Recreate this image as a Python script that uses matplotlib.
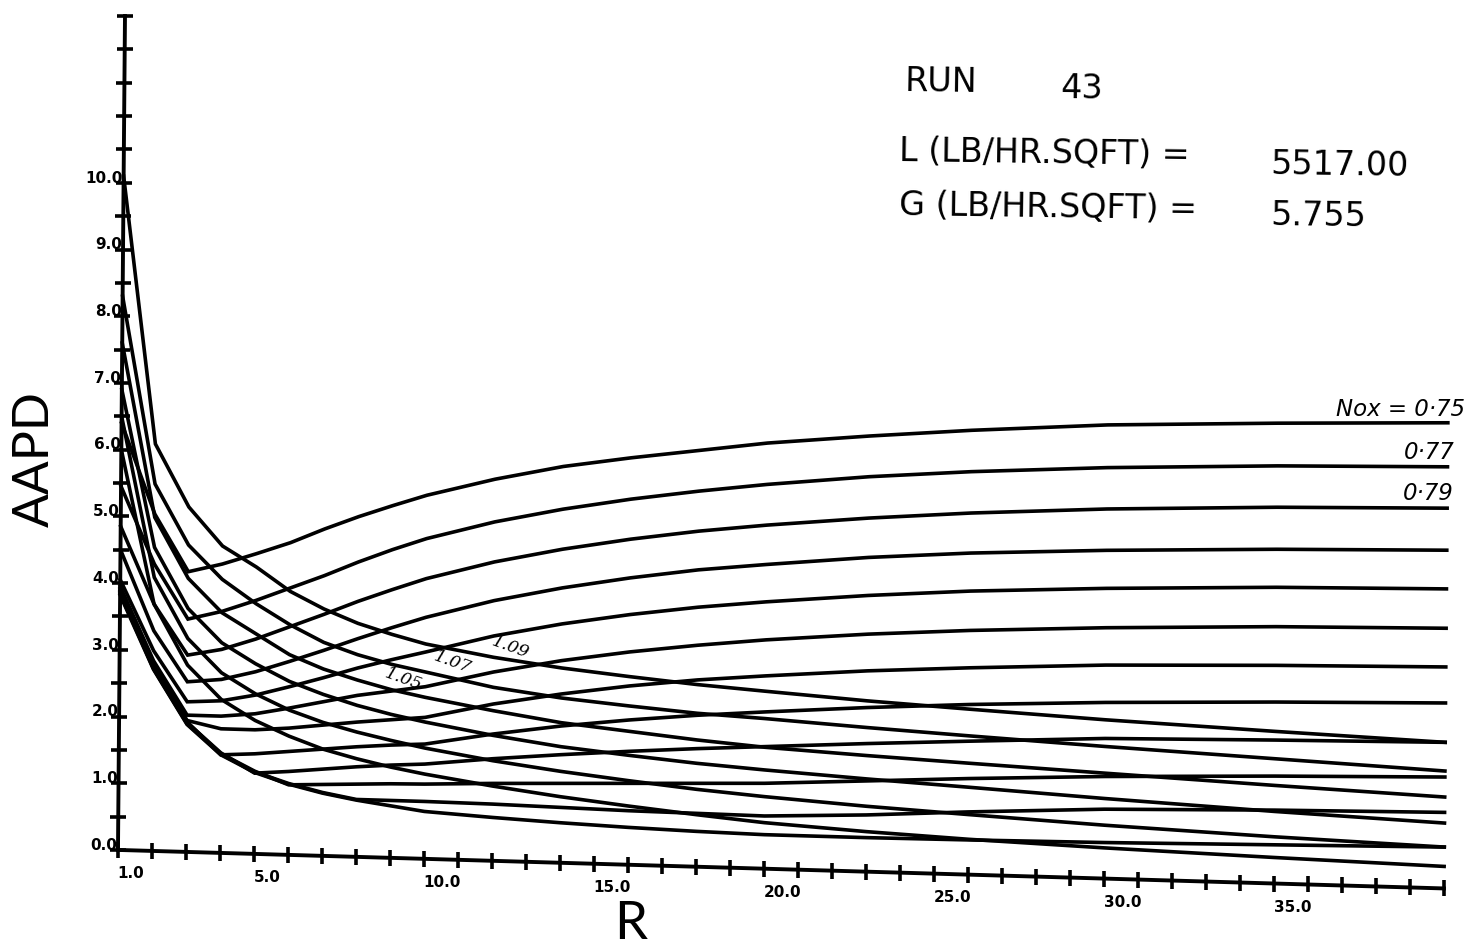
import matplotlib
matplotlib.use("Agg")
import matplotlib.pyplot as plt
from matplotlib.transforms import Affine2D

# ---- values (AAPD against R) ----
r_values = [1, 2, 3, 4, 5, 6, 7, 8, 9, 10, 12, 14, 16, 18, 20, 23, 26, 30, 35, 40]

# curves that turn and level off, Nox = 0.75 ... 0.97
nox_low = [0.75, 0.77, 0.79, 0.81, 0.83, 0.85, 0.87, 0.89, 0.91, 0.93, 0.95, 0.97]
aapd_low = [
    [6.4, 5.05, 4.2, 4.33, 4.5, 4.68, 4.9, 5.1, 5.28, 5.45, 5.72, 5.94, 6.1, 6.24, 6.38, 6.53, 6.66, 6.8, 6.9, 6.98],
    [5.45, 4.3, 3.49, 3.62, 3.8, 4.0, 4.2, 4.42, 4.62, 4.8, 5.08, 5.3, 5.48, 5.63, 5.76, 5.92, 6.04, 6.16, 6.26, 6.32],
    [4.85, 3.7, 2.95, 3.05, 3.22, 3.42, 3.62, 3.83, 4.02, 4.2, 4.48, 4.7, 4.88, 5.03, 5.15, 5.3, 5.42, 5.54, 5.64, 5.70],
    [4.5, 3.3, 2.55, 2.6, 2.73, 2.9, 3.08, 3.27, 3.45, 3.62, 3.9, 4.12, 4.3, 4.45, 4.56, 4.71, 4.82, 4.92, 5.01, 5.07],
    [4.05, 3.0, 2.25, 2.28, 2.38, 2.52, 2.67, 2.83, 2.97, 3.1, 3.37, 3.58, 3.75, 3.89, 4.0, 4.14, 4.25, 4.35, 4.44, 4.49],
    [3.95, 2.85, 2.05, 2.05, 2.1, 2.2, 2.31, 2.42, 2.5, 2.58, 2.83, 3.03, 3.19, 3.32, 3.43, 3.56, 3.66, 3.76, 3.85, 3.90],
    [3.92, 2.8, 1.97, 1.86, 1.86, 1.9, 1.96, 2.02, 2.07, 2.12, 2.35, 2.53, 2.68, 2.8, 2.89, 3.01, 3.1, 3.2, 3.27, 3.32],
    [3.9, 2.76, 1.95, 1.47, 1.5, 1.55, 1.6, 1.65, 1.69, 1.72, 1.9, 2.05, 2.17, 2.27, 2.35, 2.46, 2.55, 2.64, 2.72, 2.78],
    [3.88, 2.75, 1.94, 1.5, 1.21, 1.25, 1.3, 1.35, 1.39, 1.42, 1.53, 1.62, 1.7, 1.77, 1.83, 1.92, 2.0, 2.1, 2.15, 2.19],
    [3.86, 2.74, 1.93, 1.49, 1.24, 1.05, 1.07, 1.09, 1.11, 1.12, 1.16, 1.19, 1.22, 1.25, 1.28, 1.36, 1.44, 1.53, 1.61, 1.67],
    [3.84, 2.73, 1.92, 1.48, 1.23, 1.07, 0.95, 0.86, 0.86, 0.86, 0.85, 0.83, 0.81, 0.8, 0.79, 0.85, 0.94, 1.04, 1.1, 1.14],
    [3.82, 2.72, 1.91, 1.47, 1.22, 1.06, 0.94, 0.85, 0.78, 0.71, 0.65, 0.6, 0.56, 0.53, 0.51, 0.51, 0.52, 0.54, 0.58, 0.62],
]

# curves that keep falling, Nox = 0.99 ... 1.09
nox_high = [0.99, 1.01, 1.03, 1.05, 1.07, 1.09]
aapd_high = [
    [6.0, 3.7, 2.8, 2.3, 2.0, 1.78, 1.6, 1.47, 1.36, 1.27, 1.12, 0.99, 0.88, 0.78, 0.69, 0.6, 0.53, 0.46, 0.39, 0.33],
    [6.5, 4.1, 3.2, 2.7, 2.4, 2.17, 2.0, 1.87, 1.76, 1.66, 1.5, 1.37, 1.26, 1.16, 1.08, 0.98, 0.9, 0.8, 0.7, 0.62],
    [6.9, 4.55, 3.65, 3.15, 2.85, 2.6, 2.42, 2.27, 2.15, 2.05, 1.88, 1.74, 1.64, 1.55, 1.48, 1.39, 1.31, 1.2, 1.08, 0.98],
    [7.6, 5.0, 4.1, 3.6, 3.3, 3.0, 2.8, 2.65, 2.52, 2.42, 2.25, 2.1, 2.0, 1.9, 1.82, 1.74, 1.67, 1.58, 1.47, 1.37],
    [8.3, 5.5, 4.6, 4.1, 3.75, 3.45, 3.2, 3.03, 2.9, 2.8, 2.6, 2.47, 2.38, 2.3, 2.25, 2.16, 2.08, 1.98, 1.87, 1.76],
    [10.1, 6.1, 5.17, 4.6, 4.3, 3.95, 3.7, 3.5, 3.35, 3.22, 3.05, 2.92, 2.82, 2.73, 2.66, 2.56, 2.48, 2.38, 2.28, 2.19],
]

x_ticks = list(range(1, 41))
x_labels = {1: "1.0", 5: "5.0", 10: "10.0", 15: "15.0", 20: "20.0", 25: "25.0", 30: "30.0", 35: "35.0"}
y_ticks = [i * 0.5 for i in range(26)]
y_labels = [0, 1, 2, 3, 4, 5, 6, 7, 8, 9, 10]

fig = plt.figure(figsize=(14.64, 9.5), dpi=100)
ax = fig.add_axes([0, 0, 1, 1])
ax.set_xlim(-2.47, 40.59)
ax.set_ylim(-1.5, 12.74)
ax.axis("off")

# the scanned sheet is slightly skewed
k = 0.0148
c = 0.0165
tr = Affine2D().from_values(1, -k, c, 1, 0, k) + ax.transData

lw = 2.6
for y in aapd_low + aapd_high:
    ax.plot(r_values, y, color="black", lw=lw, transform=tr, solid_joinstyle="miter")

# axes drawn like the plotter did
ax.plot([1, 40], [0, 0], color="black", lw=2.8, transform=tr)
ax.plot([1, 1], [0, 12.5], color="black", lw=2.8, transform=tr)
ax.plot(x_ticks, [0] * len(x_ticks), ls="none", marker="|", ms=12, mew=2.6, color="black", transform=tr)
ax.plot([1] * len(y_ticks), y_ticks, ls="none", marker="_", ms=11, mew=2.6, color="black", transform=tr)

for v, s in x_labels.items():
    ax.text(v, -0.36, s, transform=tr, ha="left", va="center", fontsize=11,
            fontweight="bold", family="DejaVu Sans")
for v in y_labels:
    ax.text(0.98, v + 0.07, "%.1f" % v, transform=tr, ha="right", va="center", fontsize=11,
            fontweight="bold", family="DejaVu Sans")

ax.text(0.431, 0.027, "R", transform=fig.transFigure, ha="center", va="center",
        fontsize=38, family="Lato", color="black")
ax.text(0.024, 0.517, "AAPD", transform=fig.transFigure, ha="center", va="center",
        rotation=90, fontsize=36, family="Lato", color="black")

# header block
hdr = dict(transform=fig.transFigure, fontsize=24, family=["Liberation Sans Narrow", "DejaVu Sans"],
           va="center", rotation=-0.8)
ax.text(0.618, 0.914, "RUN", ha="left", **hdr)
ax.text(0.724, 0.907, "43", ha="left", **hdr)
ax.text(0.614, 0.838, "L (LB/HR.SQFT) =", ha="left", **hdr)
ax.text(0.868, 0.826, "5517.00", ha="left", **hdr)
ax.text(0.614, 0.781, "G (LB/HR.SQFT) =", ha="left", **hdr)
ax.text(0.868, 0.772, "5.755", ha="left", **hdr)

# curve labels
lab = dict(transform=tr, fontsize=16.5, style="italic", family="DejaVu Sans", ha="right", va="bottom")
ax.text(40.5, 7.02, "Nox = 0·75", **lab)
ax.text(40.2, 6.37, "0·77", **lab)
ax.text(40.2, 5.75, "0·79", **lab)
small = dict(transform=tr, fontsize=12.5, style="italic", family="DejaVu Serif", ha="center", va="center", rotation=-20)
ax.text(12.5, 3.2, "1.09", **small)
ax.text(10.8, 2.96, "1.07", **small)
ax.text(9.35, 2.68, "1.05", **small)

fig.savefig("out.png", dpi=100)
